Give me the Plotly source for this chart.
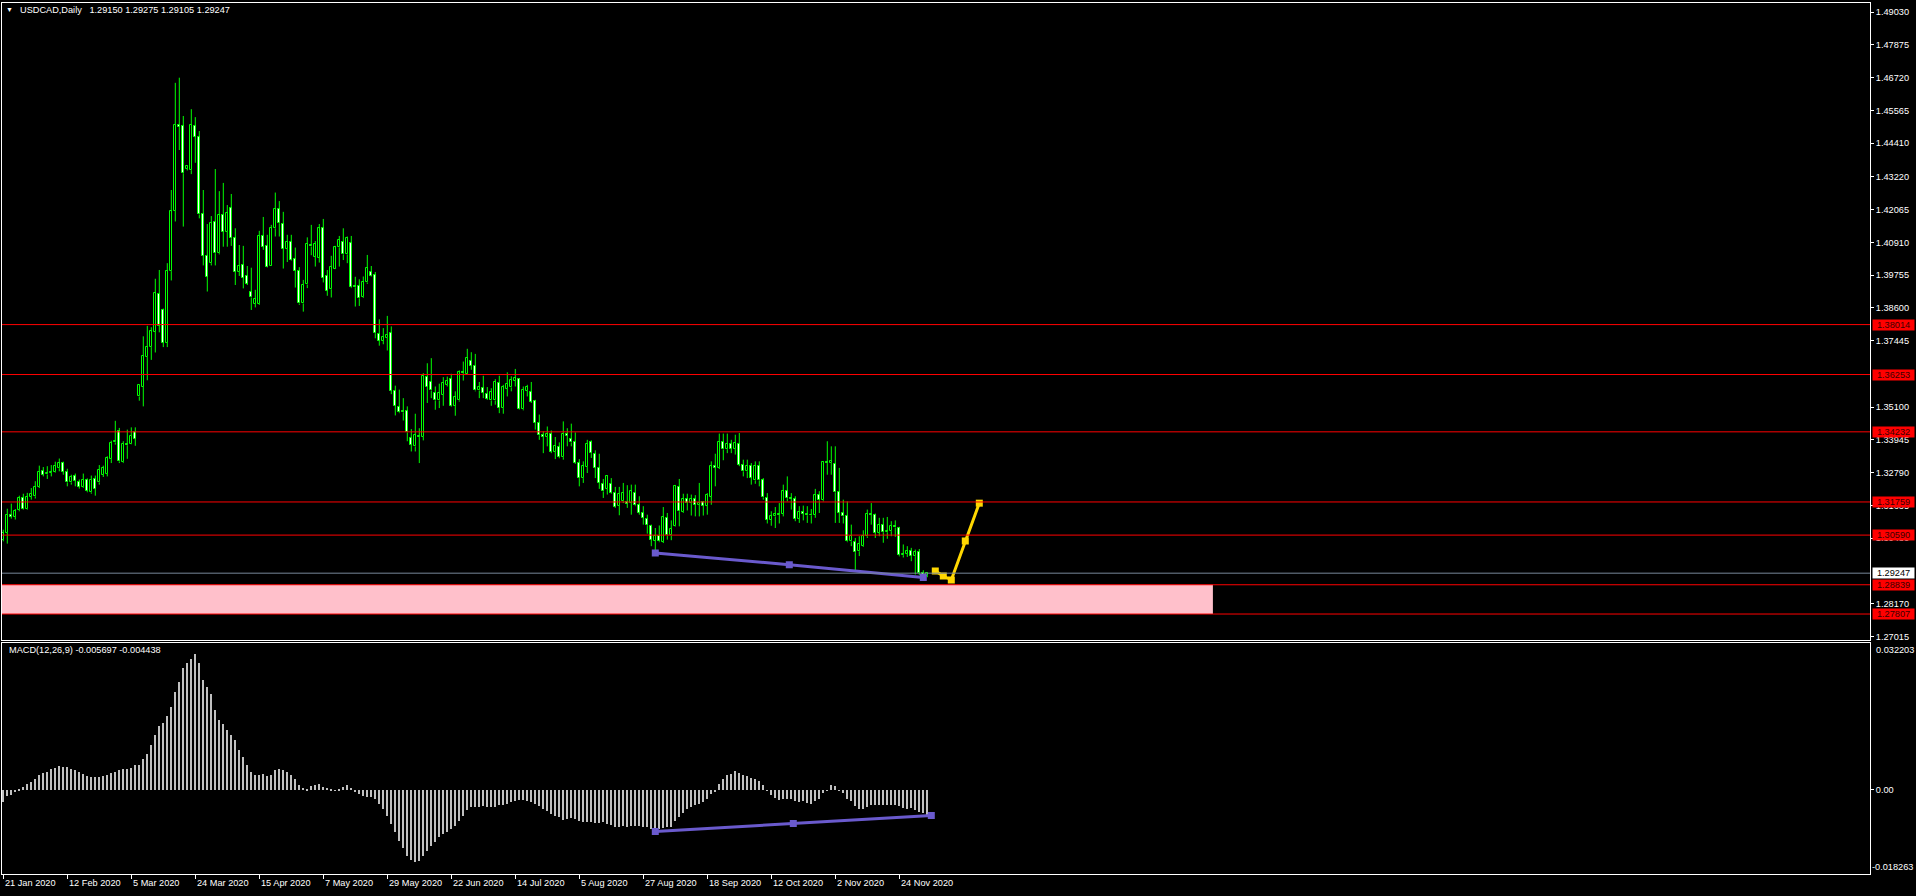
import plotly.graph_objects as go

W, H = 1916, 896
FONT = "Liberation Sans, Arial, sans-serif"

# ---------------- data ----------------
opens = [
1.3043,1.3067,1.3130,1.3124,1.3147,1.3190,1.3151,1.3194,1.3196,1.3229,
1.3285,1.3273,1.3278,1.3280,1.3295,1.3313,1.3282,1.3245,1.3266,1.3248,
1.3228,1.3255,1.3210,1.3257,1.3245,1.3272,1.3275,1.3327,1.3386,1.3425,
1.3316,1.3381,1.3379,1.3421,1.3548,1.3583,1.3687,1.3722,1.3777,1.3910,
1.3853,1.3738,1.3990,1.4203,1.4507,1.4501,1.4351,1.4346,1.4501,1.4462,
1.4191,1.4044,1.4018,1.4162,1.4053,1.4187,1.4129,1.4211,1.4106,1.3988,
1.4011,1.3973,1.3917,1.3875,1.3875,1.4114,1.4079,1.4009,1.4141,1.4209,
1.4156,1.4069,1.4093,1.4033,1.3991,1.3876,1.3943,1.4082,1.4041,1.4038,
1.4141,1.3973,1.3926,1.3999,1.4074,1.4092,1.4049,1.4088,1.3938,1.3938,
1.3898,1.3950,1.3986,1.3975,1.3768,1.3745,1.3754,1.3771,1.3568,1.3511,
1.3498,1.3495,1.3401,1.3372,1.3410,1.3405,1.3616,1.3599,1.3560,1.3534,
1.3554,1.3589,1.3609,1.3516,1.3534,1.3634,1.3627,1.3674,1.3656,1.3569,
1.3577,1.3558,1.3534,1.3534,1.3595,1.3507,1.3575,1.3580,1.3604,1.3609,
1.3503,1.3568,1.3563,1.3533,1.3454,1.3411,1.3405,1.3417,1.3352,1.3369,
1.3334,1.3417,1.3398,1.3387,1.3313,1.3260,1.3299,1.3387,1.3346,1.3296,
1.3239,1.3222,1.3240,1.3208,1.3163,1.3178,1.3175,1.3172,1.3208,1.3165,
1.3137,1.3117,1.3092,1.3040,1.3055,1.3036,1.3120,1.3058,1.3090,1.3229,
1.3140,1.3186,1.3172,1.3185,1.3166,1.3175,1.3162,1.3194,1.3301,1.3296,
1.3387,1.3362,1.3380,1.3363,1.3380,1.3307,1.3284,1.3304,1.3252,1.3304,
1.3252,1.3190,1.3114,1.3125,1.3133,1.3134,1.3213,1.3189,1.3186,1.3117,
1.3139,1.3134,1.3129,1.3131,1.3199,1.3182,1.3317,1.3313,1.3311,1.3210,
1.3137,1.3127,1.3037,1.3034,1.3002,1.3020,1.3055,1.3134,1.3130,1.3067,
1.3096,1.3069,1.3073,1.3092,1.3083,1.2988,1.2993,1.3002,1.2985,1.2999,
1.2926,1.29150]

highs = [
1.3078,1.3152,1.3170,1.3151,1.3198,1.3205,1.3208,1.3225,1.3249,1.3304,
1.3299,1.3302,1.3306,1.3318,1.3329,1.3318,1.3293,1.3272,1.3276,1.3255,
1.3276,1.3259,1.3269,1.3269,1.3306,1.3304,1.3337,1.3392,1.3462,1.3437,
1.3390,1.3431,1.3439,1.3439,1.3589,1.3760,1.3797,1.3792,1.3963,1.3994,
1.3858,1.4018,1.4276,1.4654,1.4672,1.4537,1.4363,1.4561,1.4533,1.4484,
1.4276,1.4156,1.4184,1.4350,1.4272,1.4301,1.4223,1.4262,1.4141,1.4082,
1.4079,1.4008,1.4002,1.3924,1.4132,1.4181,1.4118,1.4153,1.4267,1.4237,
1.4199,1.4118,1.4118,1.4073,1.4004,1.3959,1.4109,1.4153,1.4096,1.4156,
1.4174,1.3994,1.4044,1.4079,1.4114,1.4141,1.4112,1.4114,1.3970,1.3961,
1.3971,1.4047,1.4008,1.3987,1.3820,1.3789,1.3832,1.3795,1.3586,1.3572,
1.3542,1.3513,1.3433,1.3487,1.3436,1.3630,1.3665,1.3683,1.3583,1.3593,
1.3616,1.3618,1.3628,1.3566,1.3640,1.3671,1.3716,1.3704,1.3698,1.3599,
1.3621,1.3581,1.3577,1.3609,1.3621,1.3589,1.3633,1.3619,1.3645,1.3613,
1.3583,1.3589,1.3599,1.3536,1.3484,1.3425,1.3442,1.3428,1.3405,1.3386,
1.3460,1.3436,1.3452,1.3421,1.3327,1.3319,1.3395,1.3393,1.3358,1.3346,
1.3257,1.3270,1.3260,1.3229,1.3229,1.3243,1.3235,1.3237,1.3237,1.3196,
1.3161,1.3131,1.3096,1.3084,1.3093,1.3158,1.3137,1.3111,1.3236,1.3257,
1.3205,1.3205,1.3202,1.3200,1.3243,1.3178,1.3207,1.3319,1.3346,1.3417,
1.3417,1.3417,1.3395,1.3413,1.3419,1.3325,1.3325,1.3313,1.3319,1.3319,
1.3260,1.3207,1.3143,1.3158,1.3172,1.3237,1.3266,1.3207,1.3196,1.3161,
1.3163,1.3161,1.3151,1.3222,1.3214,1.3319,1.3390,1.3372,1.3372,1.3296,
1.3184,1.3178,1.3096,1.3049,1.3055,1.3076,1.3149,1.3172,1.3135,1.3120,
1.3120,1.3123,1.3108,1.3111,1.3088,1.3026,1.3020,1.3014,1.3008,1.3010,
1.2935,1.29275]

lows = [
1.3037,1.3029,1.3117,1.3114,1.3143,1.3149,1.3149,1.3184,1.3188,1.3225,
1.3266,1.3257,1.3266,1.3278,1.3284,1.3272,1.3231,1.3237,1.3231,1.3223,
1.3225,1.3210,1.3205,1.3198,1.3237,1.3264,1.3266,1.3313,1.3378,1.3313,
1.3313,1.3328,1.3378,1.3374,1.3533,1.3513,1.3605,1.3677,1.3703,1.3774,
1.3722,1.3722,1.3957,1.4165,1.4417,1.4147,1.4345,1.4332,1.4372,1.4176,
1.4010,1.3918,1.4010,1.4010,1.4049,1.4076,1.4076,1.4079,1.3941,1.3973,
1.3929,1.3941,1.3853,1.3862,1.3871,1.4065,1.4003,1.4008,1.4112,1.4112,
1.3999,1.4022,1.4026,1.3932,1.3871,1.3847,1.3930,1.4046,1.4006,1.4020,
1.3950,1.3903,1.3897,1.3997,1.4006,1.4029,1.4018,1.3930,1.3865,1.3867,
1.3895,1.3945,1.3971,1.3753,1.3727,1.3732,1.3710,1.3556,1.3481,1.3489,
1.3463,1.3390,1.3354,1.3354,1.3313,1.3393,1.3525,1.3542,1.3501,1.3507,
1.3515,1.3583,1.3512,1.3480,1.3530,1.3604,1.3624,1.3642,1.3566,1.3542,
1.3542,1.3536,1.3515,1.3519,1.3489,1.3487,1.3548,1.3566,1.3583,1.3501,
1.3499,1.3548,1.3525,1.3431,1.3395,1.3348,1.3372,1.3348,1.3327,1.3330,
1.3325,1.3372,1.3372,1.3310,1.3231,1.3243,1.3278,1.3331,1.3260,1.3222,
1.3190,1.3202,1.3205,1.3155,1.3129,1.3172,1.3155,1.3131,1.3161,1.3131,
1.3096,1.3064,1.3020,1.2994,1.3034,1.3031,1.3043,1.3041,1.3088,1.3090,
1.3137,1.3146,1.3128,1.3125,1.3125,1.3128,1.3131,1.3166,1.3231,1.3292,
1.3323,1.3348,1.3348,1.3343,1.3302,1.3266,1.3260,1.3237,1.3240,1.3231,
1.3184,1.3100,1.3092,1.3084,1.3100,1.3125,1.3178,1.3149,1.3108,1.3102,
1.3111,1.3102,1.3100,1.3120,1.3137,1.3178,1.3272,1.3272,1.3102,1.3102,
1.3100,1.3034,1.3020,1.2932,1.2985,1.3017,1.3049,1.3096,1.3049,1.3055,
1.3032,1.3046,1.3055,1.3053,1.2984,1.2980,1.2982,1.2967,1.2920,1.2918,
1.2907,1.29105]

closes = [
1.3067,1.3131,1.3124,1.3144,1.3190,1.3151,1.3194,1.3205,1.3229,1.3282,
1.3271,1.3279,1.3283,1.3304,1.3313,1.3282,1.3245,1.3264,1.3250,1.3229,
1.3255,1.3214,1.3255,1.3222,1.3290,1.3295,1.3330,1.3384,1.3392,1.3319,
1.3381,1.3376,1.3410,1.3398,1.3588,1.3691,1.3722,1.3778,1.3912,1.3797,
1.3738,1.3990,1.4201,1.4507,1.4499,1.4335,1.4361,1.4505,1.4464,1.4190,
1.4044,1.3971,1.4159,1.4053,1.4187,1.4129,1.4194,1.4106,1.3988,1.4008,
1.3967,1.3946,1.3897,1.3892,1.4114,1.4076,1.4006,1.4141,1.4209,1.4159,
1.4069,1.4093,1.4028,1.3992,1.3876,1.3942,1.4086,1.4077,1.4085,1.4141,
1.3967,1.3921,1.4004,1.4074,1.4099,1.4049,1.4106,1.3933,1.3933,1.3894,
1.3951,1.4000,1.3973,1.3771,1.3745,1.3757,1.3765,1.3568,1.3515,1.3492,
1.3492,1.3421,1.3378,1.3411,1.3405,1.3621,1.3581,1.3569,1.3534,1.3560,
1.3595,1.3603,1.3515,1.3546,1.3634,1.3630,1.3683,1.3656,1.3569,1.3580,
1.3560,1.3540,1.3563,1.3599,1.3507,1.3581,1.3593,1.3607,1.3613,1.3503,
1.3572,1.3581,1.3530,1.3454,1.3411,1.3405,1.3415,1.3352,1.3374,1.3334,
1.3417,1.3410,1.3386,1.3313,1.3260,1.3302,1.3381,1.3348,1.3296,1.3243,
1.3213,1.3266,1.3208,1.3158,1.3205,1.3208,1.3169,1.3213,1.3164,1.3137,
1.3120,1.3094,1.3043,1.3057,1.3037,1.3122,1.3058,1.3082,1.3233,1.3143,
1.3186,1.3172,1.3186,1.3166,1.3174,1.3163,1.3202,1.3301,1.3296,1.3387,
1.3361,1.3381,1.3363,1.3385,1.3307,1.3284,1.3304,1.3262,1.3304,1.3252,
1.3192,1.3114,1.3125,1.3133,1.3130,1.3213,1.3189,1.3186,1.3117,1.3140,
1.3134,1.3129,1.3131,1.3199,1.3182,1.3317,1.3313,1.3321,1.3210,1.3137,
1.3125,1.3037,1.3055,1.2999,1.3029,1.3055,1.3134,1.3131,1.3067,1.3096,
1.3069,1.3073,1.3092,1.3086,1.2988,1.2993,1.3002,1.2985,1.2999,1.2926,
1.2915,1.29247]

macd = [
-0.00256,-0.00124,-0.00095,-0.00015,0.00037,0.00073,0.00132,0.00183,0.00256,0.00329,
0.00380,0.00402,0.00461,0.00490,0.00534,0.00512,0.00512,0.00461,0.00439,0.00402,
0.00366,0.00315,0.00293,0.00293,0.00293,0.00307,0.00329,0.00380,0.00402,0.00439,
0.00461,0.00475,0.00490,0.00549,0.00563,0.00680,0.00805,0.01002,0.01207,0.01411,
0.01463,0.01631,0.01828,0.02158,0.02377,0.02670,0.02779,0.02875,0.02977,0.02779,
0.02414,0.02267,0.02099,0.01755,0.01536,0.01441,0.01317,0.01207,0.01097,0.00878,
0.00731,0.00563,0.00402,0.00329,0.00329,0.00366,0.00315,0.00344,0.00439,0.00475,
0.00439,0.00402,0.00329,0.00256,0.00110,0.00051,0.00037,0.00095,0.00110,0.00132,
0.00073,0.00051,0.00015,-0.00007,0.00022,0.00073,0.00110,0.00051,-0.00022,-0.00073,
-0.00124,-0.00146,-0.00146,-0.00183,-0.00293,-0.00402,-0.00549,-0.00731,-0.00914,-0.01097,
-0.01265,-0.01426,-0.01514,-0.01572,-0.01536,-0.01426,-0.01317,-0.01207,-0.01134,-0.01024,
-0.00951,-0.00900,-0.00841,-0.00783,-0.00658,-0.00549,-0.00439,-0.00366,-0.00366,-0.00366,
-0.00344,-0.00366,-0.00373,-0.00366,-0.00329,-0.00329,-0.00293,-0.00256,-0.00241,-0.00219,
-0.00219,-0.00241,-0.00256,-0.00293,-0.00344,-0.00402,-0.00461,-0.00512,-0.00549,-0.00585,
-0.00636,-0.00622,-0.00607,-0.00622,-0.00658,-0.00680,-0.00680,-0.00695,-0.00709,-0.00709,
-0.00680,-0.00731,-0.00753,-0.00790,-0.00790,-0.00783,-0.00805,-0.00768,-0.00783,-0.00783,
-0.00805,-0.00790,-0.00841,-0.00878,-0.00841,-0.00826,-0.00805,-0.00805,-0.00658,-0.00585,
-0.00490,-0.00417,-0.00366,-0.00315,-0.00293,-0.00256,-0.00197,-0.00073,-0.00022,0.00146,
0.00241,0.00329,0.00366,0.00417,0.00388,0.00344,0.00315,0.00278,0.00256,0.00205,
0.00110,-0.00005,-0.00110,-0.00168,-0.00219,-0.00197,-0.00197,-0.00197,-0.00241,-0.00256,
-0.00241,-0.00271,-0.00293,-0.00234,-0.00197,-0.00059,0.00003,0.00110,0.00088,-0.00003,
-0.00051,-0.00183,-0.00241,-0.00351,-0.00417,-0.00417,-0.00366,-0.00329,-0.00329,-0.00329,
-0.00329,-0.00315,-0.00315,-0.00315,-0.00344,-0.00388,-0.00402,-0.00388,-0.00424,-0.00475,
-0.00497,-0.005697]

date_tick_bars = [0, 16, 32, 48, 64, 80, 96, 112, 128, 144, 160, 176, 192, 208, 224]
date_tick_labels = ["21 Jan 2020", "12 Feb 2020", "5 Mar 2020", "24 Mar 2020", "15 Apr 2020",
                    "7 May 2020", "29 May 2020", "22 Jun 2020", "14 Jul 2020", "5 Aug 2020",
                    "27 Aug 2020", "18 Sep 2020", "12 Oct 2020", "2 Nov 2020", "24 Nov 2020"]

price_ticks = [1.49030, 1.47875, 1.46720, 1.45565, 1.44410, 1.43220, 1.42065, 1.40910,
               1.39755, 1.38600, 1.37445, 1.35100, 1.33945, 1.32790, 1.31635, 1.30480,
               1.28170, 1.27015]
level_lines = [1.38014, 1.36253, 1.34232, 1.31759, 1.30590, 1.28839, 1.27807]
bid_price = 1.29247
zone_bars = [-0.325, 302.4]
zone_prices = [1.27807, 1.28839]

price_trend_bars = [163, 196.5, 230]
price_trend_vals = [1.29956, 1.29545, 1.29098]
macd_trend_bars = [163, 197.5, 232]
macd_trend_vals = [-0.00907, -0.00733, -0.00558]
zigzag_bars = [233, 235, 237, 240.5, 244]
zigzag_vals = [1.29323, 1.29147, 1.29006, 1.30378, 1.31716]

macd_max, macd_min = 0.032203, -0.018263
title_text = "USDCAD,Daily\u00a0\u00a0 1.29150 1.29275 1.29105 1.29247"
macd_text = "MACD(12,26,9) -0.005697 -0.004438"

# ---------------- geometry ----------------
X_RANGE = [-0.325, 466.675]
Y_RANGE = [1.26906, 1.49355]
main_dom = [(H - 641) / H, (H - 3) / H]
macd_dom = [(H - 875.5) / H, (H - 644) / H]
x_dom = [2 / W, 1870 / W]

LIME = "#00FF00"
fig = go.Figure()

n = len(opens)
bx = {True: [], False: []}
bb = {True: [], False: []}
bh = {True: [], False: []}
wx, wy = [], []
for i in range(n):
    o, h, l, c = opens[i], highs[i], lows[i], closes[i]
    up = c >= o
    lo, hi = min(o, c), max(o, c)
    bx[up].append(i)
    bb[up].append(lo)
    bh[up].append(max(hi - lo, 0.00002))
    if h > hi:
        wx += [i, i, None]; wy += [hi, h, None]
    if l < lo:
        wx += [i, i, None]; wy += [l, lo, None]

fig.add_trace(go.Scatter(x=wx, y=wy, mode="lines", line=dict(color=LIME, width=1),
                         hoverinfo="skip", xaxis="x", yaxis="y"))
for up, fill in ((True, "#000000"), (False, "#FFFFFF")):
    fig.add_trace(go.Bar(x=bx[up], base=bb[up], y=bh[up], width=0.5,
                         marker=dict(color=fill, line=dict(color=LIME, width=1)),
                         hoverinfo="skip", xaxis="x", yaxis="y"))

fig.add_trace(go.Scatter(x=price_trend_bars, y=price_trend_vals, mode="lines+markers",
                         line=dict(color="#6A5ACD", width=3),
                         marker=dict(symbol="square", size=7, color="#6A5ACD"),
                         hoverinfo="skip", xaxis="x", yaxis="y"))
fig.add_trace(go.Scatter(x=zigzag_bars, y=zigzag_vals, mode="lines+markers",
                         line=dict(color="#FFD700", width=3),
                         marker=dict(symbol="square", size=7, color="#FFD700"),
                         hoverinfo="skip", xaxis="x", yaxis="y"))

fig.add_trace(go.Bar(x=list(range(len(macd))), y=macd, width=0.3,
                     marker=dict(color="#C0C0C0", line=dict(width=0)),
                     hoverinfo="skip", xaxis="x2", yaxis="y2"))
fig.add_trace(go.Scatter(x=macd_trend_bars, y=macd_trend_vals, mode="lines+markers",
                         line=dict(color="#6A5ACD", width=3),
                         marker=dict(symbol="square", size=7, color="#6A5ACD"),
                         hoverinfo="skip", xaxis="x2", yaxis="y2"))

shapes = []
shapes.append(dict(type="rect", xref="x", yref="y", x0=zone_bars[0], x1=zone_bars[1],
                   y0=zone_prices[0], y1=zone_prices[1], fillcolor="#FFC0CB",
                   line=dict(width=0), layer="below"))
for p in level_lines:
    shapes.append(dict(type="line", xref="paper", yref="y", x0=x_dom[0], x1=x_dom[1],
                       y0=p, y1=p, line=dict(color="#FF0000", width=1), layer="above"))
shapes.append(dict(type="line", xref="paper", yref="y", x0=x_dom[0], x1=x_dom[1],
                   y0=bid_price, y1=bid_price, line=dict(color="#778899", width=1), layer="above"))

ann = []
LS = 9.2
lab_font = dict(family=FONT, size=LS, color="#FFFFFF")
for p in level_lines:
    ann.append(dict(xref="paper", yref="y", x=1872 / W, y=p, xanchor="left", yanchor="middle",
                    text=f"{p:.5f}", showarrow=False, bgcolor="#FF0000", borderpad=0,
                    width=41, height=10, align="center",
                    font=dict(family=FONT, size=LS, color="#3a0000")))
ann.append(dict(xref="paper", yref="y", x=1872 / W, y=bid_price, xanchor="left", yanchor="middle",
                text=f"{bid_price:.5f}", showarrow=False, bgcolor="#FFFFFF", borderpad=0,
                width=41, height=10, align="center",
                font=dict(family=FONT, size=LS, color="#000000")))
ann.append(dict(xref="paper", yref="paper", x=1874 / W, y=1 - 651 / H, xanchor="left",
                yanchor="middle", text=f"{macd_max:.6f}", showarrow=False, font=lab_font))
ann.append(dict(xref="paper", yref="paper", x=1915 / W, y=1 - 869 / H, xanchor="right",
                yanchor="middle", text=f"{macd_min:.6f}", showarrow=False, font=lab_font))
for b, t in zip(date_tick_bars, date_tick_labels):
    ann.append(dict(xref="x2", yref="paper", x=b, y=1 - 885 / H, xanchor="left",
                    yanchor="middle", text=t, showarrow=False, font=lab_font))
ann.append(dict(xref="paper", yref="paper", x=9 / W, y=1 - 10 / H, xanchor="center",
                yanchor="middle", text="\u25bc", showarrow=False,
                font=dict(family=FONT, size=7, color="#FFFFFF")))
ann.append(dict(xref="paper", yref="paper", x=18 / W, y=1 - 10 / H, xanchor="left",
                yanchor="middle", text=title_text, showarrow=False, font=lab_font))
ann.append(dict(xref="paper", yref="paper", x=7 / W, y=1 - 651 / H, xanchor="left",
                yanchor="middle", text=macd_text, showarrow=False, font=lab_font))

axis_common = dict(showgrid=False, zeroline=False, showline=True, linecolor="#FFFFFF",
                   linewidth=1, mirror=True)
fig.update_layout(
    width=W, height=H, margin=dict(l=0, r=0, t=0, b=0),
    paper_bgcolor="#000000", plot_bgcolor="#000000",
    showlegend=False, barmode="overlay", bargap=0, hovermode=False,
    font=dict(family=FONT, color="#FFFFFF"),
    xaxis=dict(domain=x_dom, range=X_RANGE, anchor="y", showticklabels=False, ticks="",
               **axis_common),
    yaxis=dict(domain=main_dom, range=Y_RANGE, anchor="x", side="right",
               tickmode="array", tickvals=price_ticks,
               ticktext=[f"{v:.5f}" for v in price_ticks],
               ticks="outside", ticklen=3, tickcolor="#FFFFFF", tickwidth=1,
               tickfont=lab_font, **axis_common),
    xaxis2=dict(domain=x_dom, range=X_RANGE, anchor="y2", showticklabels=False,
                tickmode="array", tickvals=date_tick_bars, ticks="outside", ticklen=4,
                tickcolor="#FFFFFF", tickwidth=1, **axis_common),
    yaxis2=dict(domain=macd_dom, range=[macd_min, macd_max], anchor="x2", side="right",
                tickmode="array", tickvals=[0], ticktext=["0.00"], ticks="outside",
                ticklen=3, tickcolor="#FFFFFF", tickwidth=1, tickfont=lab_font,
                **axis_common),
    shapes=shapes, annotations=ann,
)

fig.write_html("out.html", config={"displayModeBar": False},
               post_script="document.body.style.margin='0px';document.body.style.overflow='hidden';document.body.style.background='#000';")
